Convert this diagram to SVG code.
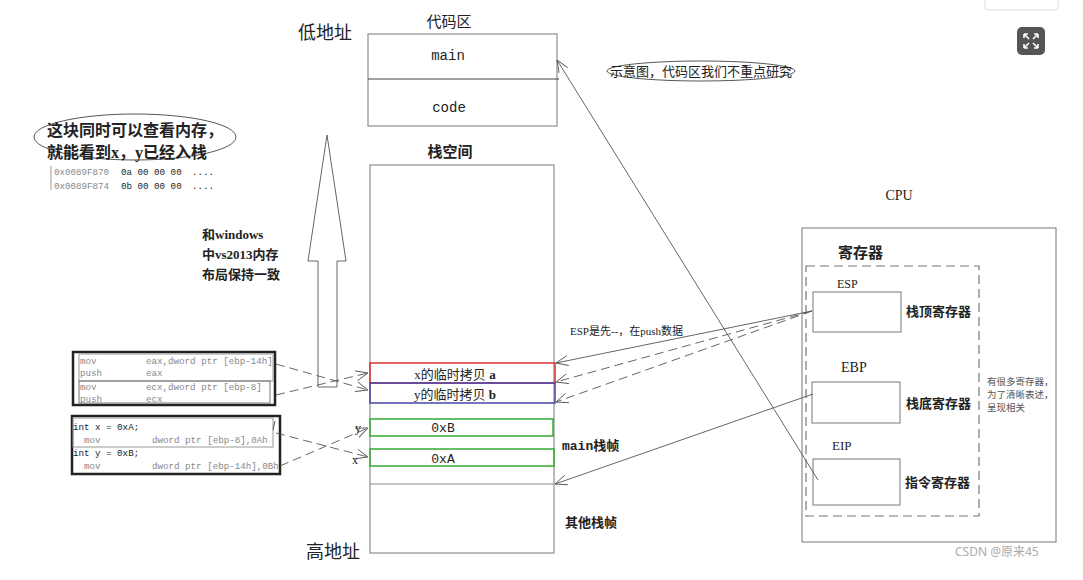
<svg xmlns="http://www.w3.org/2000/svg" width="1083" height="580" viewBox="0 0 1083 580">
<style>
text{font-family:"Liberation Serif","Noto Sans CJK SC",serif;fill:#222}
.b{font-weight:bold}
.mono{font-family:"Liberation Mono","Noto Sans CJK SC",monospace}
.m{font-family:"Liberation Mono","Noto Sans CJK SC",monospace;font-size:9.2px;fill:#888}
.k{font-family:"Liberation Mono","Noto Sans CJK SC",monospace;font-size:9.2px;fill:#222}
.g{fill:#555}
.box{fill:none;stroke:#777;stroke-width:1}
.ln{fill:none;stroke:#555;stroke-width:0.9}
.ds{fill:none;stroke:#555;stroke-width:0.9;stroke-dasharray:9 5}
</style>
<defs>
<marker id="ar" viewBox="0 0 12 12" refX="12" refY="6" markerWidth="12" markerHeight="12" markerUnits="userSpaceOnUse" orient="auto">
<path d="M0,1 L12,6 L0,11" fill="none" stroke="#555" stroke-width="0.9"/>
</marker>
</defs>
<rect width="1083" height="580" fill="#fff"/>
<g id="ui">
<rect x="985" y="-4" width="73" height="14" rx="3" fill="#fff" stroke="#ddd"/>
<rect x="1017" y="27" width="28" height="28" rx="5" fill="#555"/>
<path d="M1024,34 l5,5 M1024,34 h4 M1024,34 v4 M1038,34 l-5,5 M1038,34 h-4 M1038,34 v4 M1024,48 l5,-5 M1024,48 h4 M1024,48 v-4 M1038,48 l-5,-5 M1038,48 h-4 M1038,48 v-4" stroke="#fff" stroke-width="1.6" fill="none"/>
</g>
<g id="code-area">
<text x="449" y="27" font-size="15" text-anchor="middle">代码区</text>
<text x="325" y="39" font-size="18" text-anchor="middle">低地址</text>
<rect x="368" y="34" width="189" height="92" class="box"/>
<line x1="368" y1="79" x2="559" y2="79" stroke="#444"/>
<text x="448" y="60" font-size="14" text-anchor="middle" class="mono">main</text>
<text x="449" y="112" font-size="14" text-anchor="middle" class="mono">code</text>
</g>
<g id="note-code">
<ellipse cx="701" cy="71" rx="94" ry="10" fill="none" stroke="#555"/>
<text x="701" y="76" font-size="13" text-anchor="middle">示意图，代码区我们不重点研究</text>
</g>
<g id="stack">
<text x="450" y="157" font-size="15" text-anchor="middle" class="b">栈空间</text>
<rect x="370" y="165" width="184" height="388" class="box"/>
<line x1="370" y1="484" x2="554" y2="484" stroke="#888"/>
<text x="333" y="558" font-size="18" text-anchor="middle">高地址</text>
<text x="562" y="450" font-size="13" class="b mono">main<tspan style="font-family:'Noto Sans CJK SC',sans-serif">栈帧</tspan></text>
<text x="565" y="527" font-size="13" class="b">其他栈帧</text>
</g>
<g id="copy-a">
<rect x="370" y="363" width="185" height="20" fill="none" stroke="#d33" stroke-width="1.5"/>
<text x="455" y="379" font-size="13" text-anchor="middle">x的临时拷贝 <tspan class="b">a</tspan></text>
</g>
<g id="copy-b">
<rect x="370" y="383" width="185" height="20" fill="none" stroke="#44a" stroke-width="1.5"/>
<text x="455" y="399" font-size="13" text-anchor="middle">y的临时拷贝 <tspan class="b">b</tspan></text>
</g>
<g id="val-b">
<rect x="370" y="419" width="183" height="17" fill="none" stroke="#3a3" stroke-width="1.5"/>
<text x="443" y="432" font-size="13" text-anchor="middle" class="mono">0xB</text>
</g>
<g id="val-a">
<rect x="370" y="449" width="184" height="17" fill="none" stroke="#3a3" stroke-width="1.5"/>
<text x="443" y="463" font-size="13" text-anchor="middle" class="mono">0xA</text>
</g>
<g id="big-arrow">
<path d="M318,387 V261 H308 L327,135 L346,261 H337 V387 Z" fill="#fff" stroke="#666"/>
</g>
<g id="note-mem">
<ellipse cx="135" cy="137" rx="101" ry="23" fill="none" stroke="#555"/>
<text x="47" y="136" font-size="16" class="b">这块同时可以查看内存，</text>
<text x="47" y="158" font-size="16" class="b">就能看到x，y已经入栈</text>
<line x1="51" y1="166" x2="51" y2="190" stroke="#999"/>
<text x="54" y="175" class="m">0x0089F870</text><text x="121" y="175" class="k">0a 00 00 00</text><text x="192" y="175" class="k">....</text>
<text x="54" y="189" class="m">0x0089F874</text><text x="121" y="189" class="k">0b 00 00 00</text><text x="192" y="189" class="k">....</text>
</g>
<g id="note-vs">
<text x="202" y="239" font-size="13" class="b">和windows</text>
<text x="202" y="259" font-size="13" class="b">中vs2013内存</text>
<text x="202" y="279" font-size="13" class="b">布局保持一致</text>
</g>
<g id="asm-push">
<rect x="73" y="352" width="202" height="53" fill="none" stroke="#222" stroke-width="2.5"/>
<rect x="79" y="354" width="194" height="27" fill="none" stroke="#999"/>
<rect x="79" y="381" width="191" height="22" fill="none" stroke="#777"/>
<text x="80" y="364" class="m">mov</text><text x="146" y="364" class="m">eax,dword ptr [ebp-14h]</text>
<text x="80" y="376" class="m">push</text><text x="146" y="376" class="m">eax</text>
<text x="80" y="390" class="m">mov</text><text x="146" y="390" class="m">ecx,dword ptr [ebp-8]</text>
<text x="80" y="402" class="m">push</text><text x="146" y="402" class="m">ecx</text>
</g>
<g id="asm-init">
<rect x="72" y="416" width="208" height="58" fill="none" stroke="#222" stroke-width="2.5"/>
<rect x="73" y="418" width="200" height="29" fill="none" stroke="#999"/>
<text x="73" y="430" class="k">int x = 0xA;</text>
<text x="84" y="443" class="m">mov</text><text x="152" y="443" class="m">dword ptr [ebp-8],0Ah</text>
<text x="73" y="456" class="k">int y = 0xB;</text>
<text x="84" y="469" class="m">mov</text><text x="152" y="469" class="m">dword ptr [ebp-14h],0Bh</text>
<line x1="275" y1="421" x2="273" y2="430" stroke="#555"/>
</g>
<g id="cpu">
<text x="899" y="200" font-size="14" text-anchor="middle">CPU</text>
<rect x="802" y="228" width="254" height="314" class="box"/>
<text x="838" y="258" font-size="15" class="b">寄存器</text>
<rect x="806" y="266" width="173" height="250" fill="none" stroke="#777" stroke-dasharray="9 5" stroke-width="1.2"/>
</g>
<g id="esp">
<text x="837" y="288" font-size="12">ESP</text>
<rect x="813" y="292" width="88" height="40" class="box"/>
<text x="906" y="316" font-size="13" class="b">栈顶寄存器</text>
</g>
<g id="ebp">
<text x="841" y="372" font-size="14">EBP</text>
<rect x="812" y="382" width="88" height="41" class="box"/>
<text x="906" y="408" font-size="13" class="b">栈底寄存器</text>
</g>
<g id="eip">
<text x="832" y="450" font-size="13">EIP</text>
<rect x="813" y="459" width="87" height="46" class="box"/>
<text x="905" y="487" font-size="13" class="b">指令寄存器</text>
</g>
<g id="note-reg">
<text x="987" y="385" font-size="9.5" class="g">有很多寄存器，</text>
<text x="987" y="398" font-size="9.5" class="g">为了清晰表述，</text>
<text x="987" y="411" font-size="9.5" class="g">呈现相关</text>
</g>
<g id="connectors">
<line x1="812" y1="311" x2="556" y2="363" class="ln" marker-end="url(#ar)"/>
<line x1="812" y1="311" x2="556" y2="382" class="ds" marker-end="url(#ar)"/>
<line x1="812" y1="311" x2="556" y2="402" class="ds" marker-end="url(#ar)"/>
<line x1="813" y1="394" x2="555" y2="484" class="ln" marker-end="url(#ar)"/>
<line x1="818" y1="480" x2="557" y2="60" class="ln" marker-end="url(#ar)"/>
<line x1="276" y1="364" x2="368" y2="390" class="ds" marker-end="url(#ar)"/>
<line x1="276" y1="395" x2="368" y2="373" class="ds" marker-end="url(#ar)"/>
<line x1="276" y1="433" x2="368" y2="457" class="ds" marker-end="url(#ar)"/>
<line x1="280" y1="466" x2="368" y2="428" class="ds" marker-end="url(#ar)"/>
<text x="570" y="335" font-size="11">ESP是先--，在push数据</text>
<text x="355" y="432" font-size="12">y</text>
<text x="352" y="464" font-size="12">x</text>
</g>
<text x="955" y="556" font-size="12" style="fill:#aaa;font-family:'Noto Sans','Noto Sans CJK SC',sans-serif">CSDN @原来45</text>
</svg>
